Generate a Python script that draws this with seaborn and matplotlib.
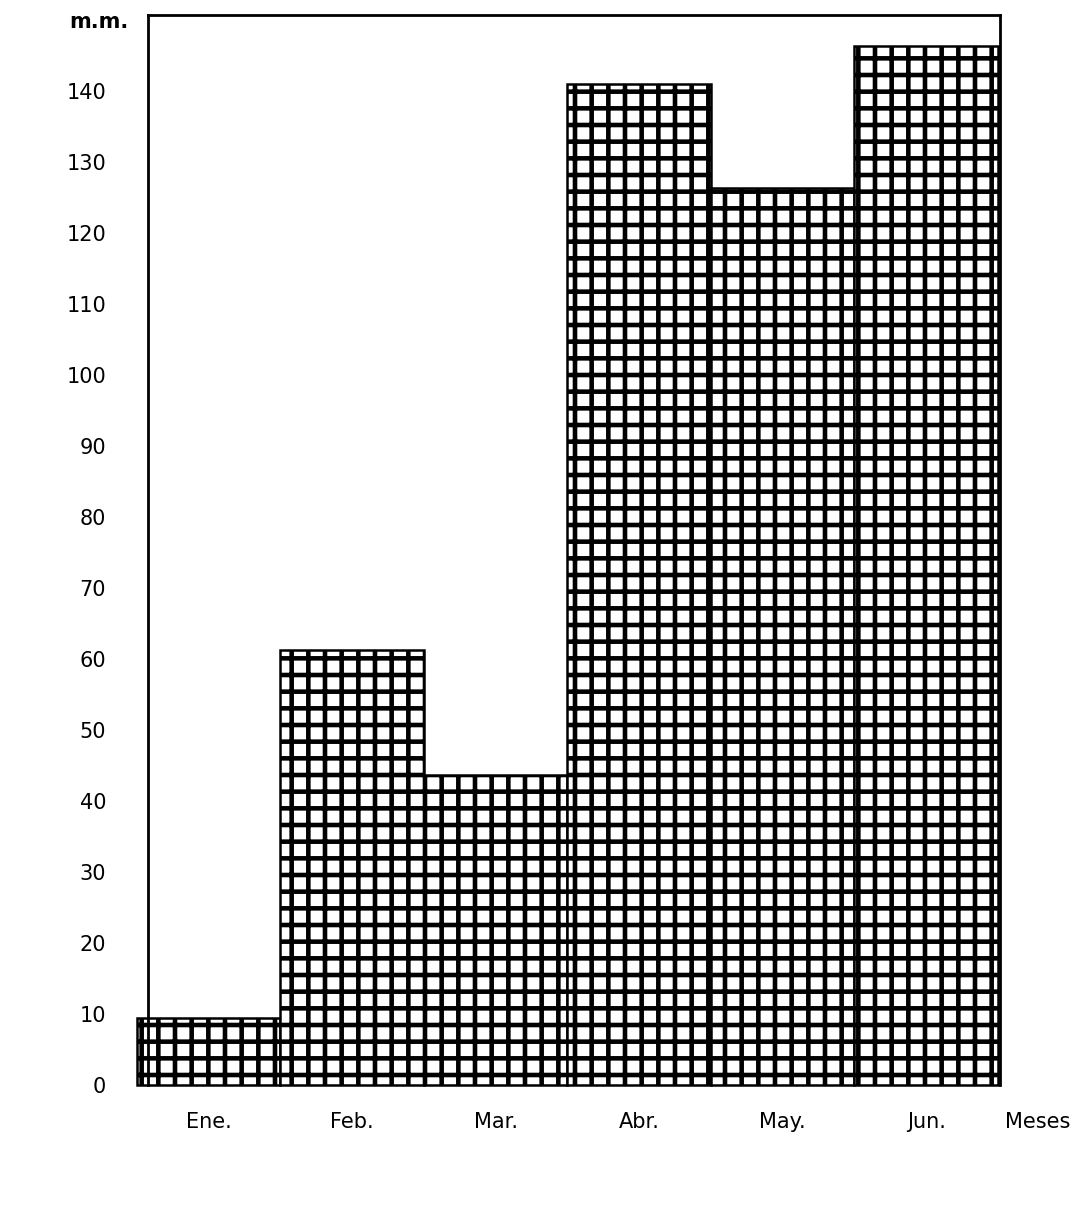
import matplotlib
matplotlib.use("Agg")
import matplotlib.pyplot as plt
import seaborn as sns

# precipitacion mensual (mm)
meses = ["Ene.", "Feb.", "Mar.", "Abr.", "May.", "Jun."]
lluvia = [9.4, 61.3, 43.7, 141.0, 126.3, 146.3]
yticks = list(range(0, 150, 10))

sns.set_style("white")
plt.rcParams["font.family"] = ["DejaVu Sans"]
plt.rcParams["hatch.linewidth"] = 3.3

fig = plt.figure(figsize=(10.87, 12.22), dpi=100)
ax = fig.add_axes([0.136, 0.1056, 0.784, 0.882])

sns.barplot(x=meses, y=lluvia, color="white", edgecolor="black",
            linewidth=1.8, hatch="+", width=1.0, ax=ax)
for p in ax.patches:
    p.set_clip_on(False)

ax.set_xlim(-0.423, 5.515)
ax.set_ylim(-1.1, 150.7)
ax.set_yticks(yticks)
ax.set_yticklabels([str(t) for t in yticks])
ax.tick_params(axis="both", length=0, labelsize=15, colors="black")
ax.tick_params(axis="y", pad=30)
ax.tick_params(axis="x", pad=14)

for s in ["left", "top", "right"]:
    ax.spines[s].set_color("black")
    ax.spines[s].set_linewidth(2)
ax.spines["left"].set_bounds(0, 150.7)
ax.spines["right"].set_bounds(0, 150.7)
ax.spines["bottom"].set_visible(False)

ax.set_xlabel("")
ax.set_ylabel("")
fig.text(0.118, 0.982, "m.m.", fontsize=15, fontweight="bold", color="black",
         ha="right", va="center")
fig.text(0.925, 0.082, "Meses", fontsize=15, color="black", ha="left", va="center")

fig.savefig("out.png", dpi=100)
